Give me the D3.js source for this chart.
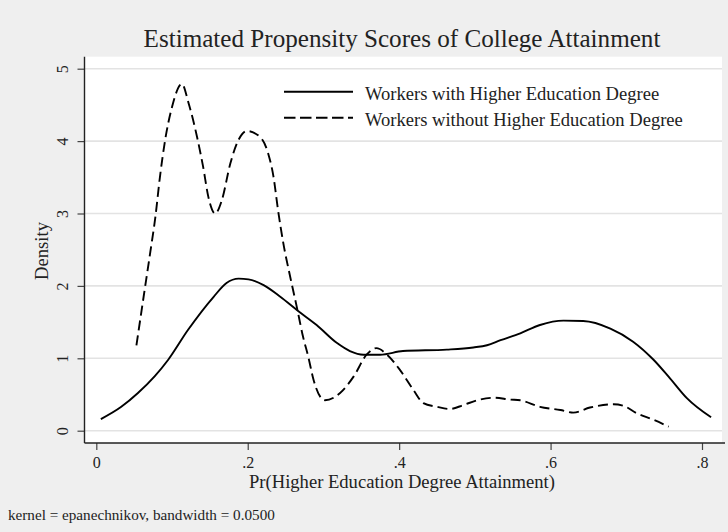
<!DOCTYPE html>
<html>
<head>
<meta charset="utf-8">
<script src="https://cdn.jsdelivr.net/npm/d3@7"></script>
<style>
  html, body { margin: 0; padding: 0; background: #efefef; }
  svg { display: block; }
  text { font-family: "Liberation Serif", "DejaVu Serif", serif; fill: #222; }
</style>
</head>
<body>
<svg id="chart" width="728" height="532"></svg>
<script>
// ---- Data ----
const withDegreeX = [0.006, 0.033, 0.055, 0.077, 0.095, 0.121, 0.155, 0.172, 0.188, 0.201, 0.221, 0.243, 0.267, 0.291, 0.318, 0.335, 0.353, 0.375, 0.405, 0.463, 0.498, 0.516, 0.534, 0.560, 0.586, 0.617, 0.643, 0.679, 0.709, 0.736, 0.758, 0.780, 0.812];
const withDegreeY = [0.16, 0.33, 0.52, 0.75, 0.98, 1.39, 1.85, 2.04, 2.10, 2.09, 2.01, 1.85, 1.65, 1.46, 1.21, 1.10, 1.05, 1.05, 1.10, 1.12, 1.15, 1.18, 1.25, 1.345, 1.46, 1.52, 1.515, 1.41, 1.23, 0.98, 0.72, 0.45, 0.185];

const withoutDegreeX = [0.053, 0.0625, 0.0715, 0.078, 0.084, 0.091, 0.100, 0.113, 0.122, 0.133, 0.141, 0.148, 0.157, 0.166, 0.177, 0.188, 0.199, 0.216, 0.227, 0.234, 0.240, 0.247, 0.256, 0.265, 0.273, 0.280, 0.287, 0.302, 0.322, 0.340, 0.357, 0.370, 0.384, 0.401, 0.419, 0.432, 0.450, 0.467, 0.485, 0.503, 0.525, 0.547, 0.560, 0.586, 0.613, 0.630, 0.652, 0.683, 0.696, 0.714, 0.736, 0.756];
const withoutDegreeY = [1.18, 1.85, 2.48, 2.95, 3.50, 4.02, 4.47, 4.79, 4.52, 4.06, 3.65, 3.23, 3.00, 3.19, 3.69, 4.02, 4.14, 4.06, 3.83, 3.51, 3.05, 2.59, 2.13, 1.70, 1.30, 1.02, 0.70, 0.42, 0.52, 0.75, 1.05, 1.14, 1.05, 0.84, 0.56, 0.38, 0.33, 0.30, 0.355, 0.42, 0.455, 0.43, 0.42, 0.33, 0.286, 0.25, 0.32, 0.365, 0.345, 0.24, 0.15, 0.055];

const seriesNames = ["Workers with Higher Education Degree", "Workers without Higher Education Degree"];
const xTickValues = [0, 0.2, 0.4, 0.6, 0.8];
const xTickLabels = ["0", ".2", ".4", ".6", ".8"];
const yTickValues = [0, 1, 2, 3, 4, 5];
const yTickLabels = ["0", "1", "2", "3", "4", "5"];
const titleText = "Estimated Propensity Scores of College Attainment";
const xTitle = "Pr(Higher Education Degree Attainment)";
const yTitle = "Density";
const noteText = "kernel = epanechnikov, bandwidth = 0.0500";

// ---- Layout ----
const svg = d3.select("#chart");
const plot = { left: 84.5, right: 722, top: 56.7, bottom: 443 };

const x = d3.scaleLinear().domain([0, 0.8]).range([96.3, 702]);
const y = d3.scaleLinear().domain([0, 5]).range([430.7, 68.7]);

// helper: fit text to measured width
function fit(sel, targetWidth) {
  const base = 20;
  sel.style("font-size", base + "px");
  const w = sel.node().getComputedTextLength();
  sel.style("font-size", (base * targetWidth / w) + "px");
  return sel;
}

// background
svg.append("rect").attr("width", 728).attr("height", 532).attr("fill", "#efefef");
svg.append("rect")
  .attr("x", plot.left).attr("y", plot.top)
  .attr("width", plot.right - plot.left).attr("height", plot.bottom - plot.top)
  .attr("fill", "#ffffff");

// gridlines
svg.append("g").selectAll("line").data(yTickValues).join("line")
  .attr("x1", plot.left).attr("x2", plot.right)
  .attr("y1", d => y(d)).attr("y2", d => y(d))
  .attr("stroke", "#e3e3e3").attr("stroke-width", 1.6);

// y axis
const yAxis = d3.axisLeft(y).tickValues(yTickValues)
  .tickFormat((d, i) => yTickLabels[i]).tickSize(7).tickSizeOuter(0);
const gy = svg.append("g").attr("transform", `translate(${plot.left},0)`).call(yAxis);
gy.select(".domain").remove();
gy.selectAll(".tick line").attr("stroke", "#444").attr("stroke-width", 1.2);
gy.selectAll(".tick text")
  .attr("x", null).attr("dy", null)
  .attr("text-anchor", "middle")
  .attr("transform", "translate(-16.5,0) rotate(-90)")
  .style("font-family", '"Liberation Serif", serif')
  .style("font-size", "16px").attr("fill", "#333");

// x axis
const xAxis = d3.axisBottom(x).tickValues(xTickValues)
  .tickFormat((d, i) => xTickLabels[i]).tickSize(7).tickSizeOuter(0);
const gx = svg.append("g").attr("transform", `translate(0,${plot.bottom})`).call(xAxis);
gx.select(".domain").remove();
gx.selectAll(".tick line").attr("stroke", "#444").attr("stroke-width", 1.2);
gx.selectAll(".tick text")
  .attr("y", 25).attr("dy", null)
  .style("font-family", '"Liberation Serif", serif')
  .style("font-size", "16px").attr("fill", "#333");

// axis lines
svg.append("line").attr("x1", plot.left).attr("x2", plot.left)
  .attr("y1", plot.top).attr("y2", plot.bottom)
  .attr("stroke", "#222").attr("stroke-width", 1.4);
svg.append("line").attr("x1", plot.left).attr("x2", plot.right + 3)
  .attr("y1", plot.bottom).attr("y2", plot.bottom)
  .attr("stroke", "#222").attr("stroke-width", 1.4);

// curves
const line = d3.line().x(d => x(d[0])).y(d => y(d[1])).curve(d3.curveMonotoneX);
const withData = d3.zip(withDegreeX, withDegreeY);
const withoutData = d3.zip(withoutDegreeX, withoutDegreeY);

svg.append("path").datum(withData).attr("d", line)
  .attr("fill", "none").attr("stroke", "#000").attr("stroke-width", 1.9)
  .attr("stroke-linejoin", "round");
svg.append("path").datum(withoutData).attr("d", line)
  .attr("fill", "none").attr("stroke", "#000").attr("stroke-width", 1.9)
  .attr("stroke-dasharray", "10,5");

// legend
const legendRows = [
  { name: seriesNames[0], dash: null, ly: 91.7, ty: 99.5 },
  { name: seriesNames[1], dash: "11.5,4.5", ly: 117.7, ty: 125.5 }
];
const lg = svg.append("g");
legendRows.forEach(r => {
  lg.append("line").attr("x1", 284).attr("x2", 353).attr("y1", r.ly).attr("y2", r.ly)
    .attr("stroke", "#000").attr("stroke-width", 1.9)
    .attr("stroke-dasharray", r.dash);
});
const lt2 = lg.append("text").attr("x", 365).attr("y", legendRows[1].ty).text(legendRows[1].name);
fit(lt2, 318);
const legendSize = lt2.style("font-size");
lg.append("text").attr("x", 365).attr("y", legendRows[0].ty).text(legendRows[0].name)
  .style("font-size", legendSize);

// title
const t = svg.append("text").attr("x", 402).attr("y", 46.5).attr("text-anchor", "middle")
  .text(titleText).attr("fill", "#1a1a1a");
fit(t, 517);

// axis titles
const xt = svg.append("text").attr("x", 402).attr("y", 488).attr("text-anchor", "middle")
  .text(xTitle).attr("fill", "#333");
fit(xt, 306);

const yt = svg.append("text").attr("text-anchor", "middle")
  .attr("transform", "translate(48.3,251) rotate(-90)")
  .text(yTitle).attr("fill", "#333");
fit(yt, 58);

// note
const nt = svg.append("text").attr("x", 8).attr("y", 520).text(noteText).attr("fill", "#222");
fit(nt, 267);
</script>
</body>
</html>
